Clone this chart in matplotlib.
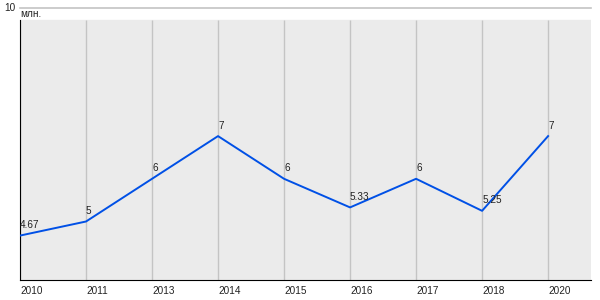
import matplotlib
matplotlib.use("Agg")
import matplotlib.pyplot as plt

# Données
annees = ["2010", "2011", "2013", "2014", "2015", "2016", "2017", "2018", "2020"]
valeurs = [4.67, 5, 6, 7, 6, 5.33, 6, 5.25, 7]
etiquettes = ["4.67", "5", "6", "7", "6", "5.33", "6", "5.25", "7"]
unite = "млн."

plt.rcParams['font.family'] = ['Liberation Sans', 'DejaVu Sans']

y_min, y_max = 3.63, 10
y_fond = 9.72  # haut de la zone grise

fig = plt.figure(figsize=(6, 3), dpi=100)
ax = fig.add_axes([20 / 600, 20 / 300, 571 / 600, 272 / 300])

x = list(range(len(annees)))
ax.set_xlim(0, len(annees) - 1 + 0.65)
ax.set_ylim(y_min, y_max)

# Zone grise et grille
ax.axhspan(y_min, y_fond, color='#ebebeb', zorder=0)
ax.vlines(x, y_min, y_fond, color='#c4c4c4', linewidth=1, zorder=1)
ax.axhline(y_max, color='#c4c4c4', linewidth=1.2, clip_on=False, zorder=1)

# Courbe
ax.plot(x, valeurs, color='#0050e6', linewidth=1.4, zorder=3)
for xi, v, lab in zip(x, valeurs, etiquettes):
    ax.annotate(lab, (xi, v), xytext=(0, 4), textcoords='offset points',
                ha='left', va='bottom', fontsize=7.2, color='#222222', zorder=4)

# Axes
for s in ['top', 'right']:
    ax.spines[s].set_visible(False)
ax.spines['left'].set_bounds(y_min, y_fond)
ax.spines['left'].set_color('black')
ax.spines['bottom'].set_color('black')

ax.set_xticks(x)
ax.set_xticklabels(annees, ha='left', fontsize=7.2, color='#222222')
ax.set_yticks([y_max])
ax.set_yticklabels(["10"], fontsize=7.2, color='#222222', va='center')
for t in ax.get_yticklabels():
    t.set_y(y_max + 0.07)
ax.tick_params(axis='both', length=0, pad=3)
ax.tick_params(axis='x', pad=4)

ax.text(0.01, y_max - 0.13, unite, ha='left', va='center', fontsize=7.2, color='#222222')

fig.savefig("out.png", dpi=100)
